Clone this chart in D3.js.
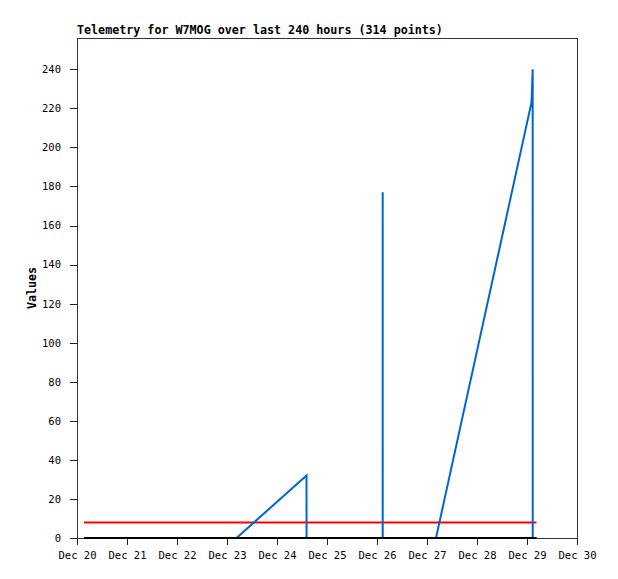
<!DOCTYPE html>
<html>
<head>
<meta charset="utf-8">
<script src="https://cdn.jsdelivr.net/npm/d3@7"></script>
<style>
  html, body { margin: 0; padding: 0; background: #fff; }
  svg { display: block; }
  text { font-family: "DejaVu Sans Mono", "Liberation Mono", monospace; }
</style>
</head>
<body>
<svg id="chart" width="618" height="579"></svg>
<script>
// ---- Data ----
const titleText = "Telemetry for W7MOG over last 240 hours (314 points)";
const yLabel = "Values";
const xDomain = ["2023-12-20T00:00Z", "2023-12-30T00:00Z"];
const yDomain = [0, 256];
const yTicks = [0, 20, 40, 60, 80, 100, 120, 140, 160, 180, 200, 220, 240];
const xTicks = ["2023-12-20", "2023-12-21", "2023-12-22", "2023-12-23", "2023-12-24",
                "2023-12-25", "2023-12-26", "2023-12-27", "2023-12-28", "2023-12-29", "2023-12-30"];

// blue series (time, value)
const blueTimes = ["2023-12-20T03:22Z", "2023-12-23T04:34Z", "2023-12-24T14:10Z", "2023-12-24T14:11Z",
                   "2023-12-26T02:43Z", "2023-12-26T02:44Z", "2023-12-26T02:45Z",
                   "2023-12-27T04:19Z", "2023-12-29T02:10Z", "2023-12-29T02:44Z", "2023-12-29T02:45Z",
                   "2023-12-29T04:34Z"];
const blueValues = [0, 0, 32, 0, 0, 177, 0, 0, 223, 240, 0, 0];

// red series
const redTimes = ["2023-12-20T03:22Z", "2023-12-29T04:34Z"];
const redValues = [8, 8];

// black series
const blackTimes = ["2023-12-20T03:22Z", "2023-12-29T04:34Z"];
const blackValues = [0, 0];

// ---- Chart ----
(function () {
const svg = d3.select("#chart");
const mLeft = 77, mRight = 577, mTop = 38, mBottom = 538;

const x = d3.scaleUtc().domain(xDomain.map(d => new Date(d))).range([mLeft, mRight]);
const y = d3.scaleLinear().domain(yDomain).range([mBottom, mTop]);

const fmt = d3.utcFormat("%b %d");

const xAxis = d3.axisBottom(x)
  .tickValues(xTicks.map(d => new Date(d + "T00:00Z")))
  .tickFormat(d => fmt(d))
  .tickSize(7).tickSizeOuter(0);
const yAxis = d3.axisLeft(y)
  .tickValues(yTicks)
  .tickSize(7).tickSizeOuter(0);

const gx = svg.append("g").attr("transform", `translate(0,${mBottom})`).call(xAxis);
const gy = svg.append("g").attr("transform", `translate(${mLeft},0)`).call(yAxis);
[gx, gy].forEach(g => {
  g.select(".domain").remove();
  g.selectAll(".tick line").attr("stroke", "#222").attr("shape-rendering", "crispEdges");
  g.selectAll(".tick text").attr("font-size", 10.5).attr("fill", "#000")
    .attr("font-family", "'DejaVu Sans Mono', monospace");
});
gx.selectAll(".tick text").attr("dy", "0.71em").attr("y", 14);
gy.selectAll(".tick text").attr("x", -16);

svg.append("rect")
  .attr("x", mLeft + 0.5).attr("y", mTop + 0.5)
  .attr("width", mRight - mLeft).attr("height", mBottom - mTop)
  .attr("fill", "none").attr("stroke", "#333").attr("stroke-width", 1)
  .attr("shape-rendering", "crispEdges");

const line = d3.line().x(d => x(d[0])).y(d => y(d[1]));
const mk = (ts, vs) => ts.map((t, i) => [new Date(t), vs[i]]);

svg.append("path").datum(mk(redTimes, redValues))
  .attr("d", line).attr("fill", "none").attr("stroke", "#ff0000").attr("stroke-width", 2);
svg.append("path").datum(mk(blueTimes, blueValues))
  .attr("d", line).attr("fill", "none").attr("stroke", "#0066cc").attr("stroke-width", 2);
svg.append("path").datum(mk(blackTimes, blackValues))
  .attr("d", line).attr("fill", "none").attr("stroke", "#000").attr("stroke-width", 2);

svg.append("text").attr("x", mLeft).attr("y", 34)
  .attr("font-size", 11.7).attr("font-weight", "bold").attr("fill", "#000")
  .text(titleText);

svg.append("text")
  .attr("transform", `translate(36,${(mTop + mBottom) / 2}) rotate(-90)`)
  .attr("text-anchor", "middle")
  .attr("font-size", 11.7).attr("font-weight", "bold").attr("fill", "#000")
  .text(yLabel);
})();
</script>
</body>
</html>
